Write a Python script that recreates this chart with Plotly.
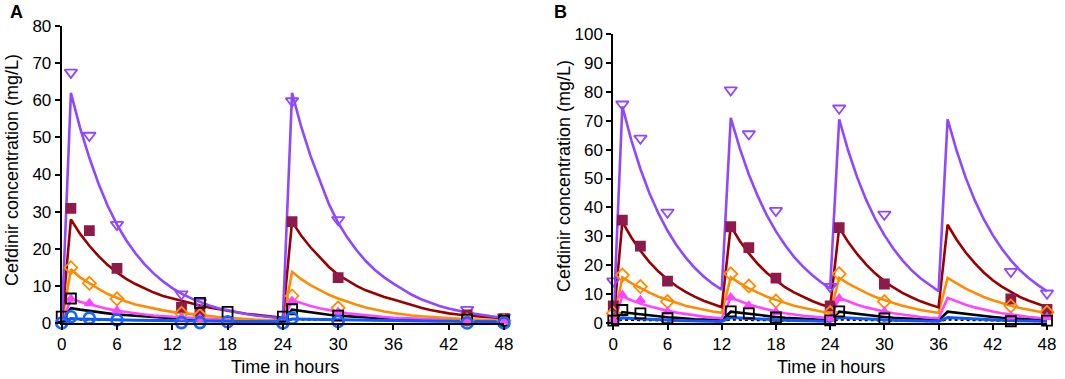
import plotly.graph_objects as go

# ---------------- data ----------------
hours = list(range(49))
x_ticks = [0, 6, 12, 18, 24, 30, 36, 42, 48]

# Panel A (once daily) model curves, hourly
purple_A = [0, 62.0, 52.5, 44.5, 37.5, 31.5, 26.5, 22.3, 18.8, 15.8, 13.3, 11.2, 9.4, 7.9, 6.7, 5.6, 4.7, 4.0, 3.4, 2.8, 2.4, 2.0, 1.7, 1.4, 1.2,
            62.0, 52.8, 45.0, 38.3, 32.0, 27.0, 23.0, 19.6, 16.7, 14.3, 12.3, 10.6, 9.0, 7.6, 6.4, 5.4, 4.6, 3.9, 3.3, 2.8, 2.4, 2.0, 1.7, 1.4]
darkred_A = [0, 27.9, 24.0, 20.8, 18.0, 15.6, 13.6, 11.9, 10.5, 9.3, 8.2, 7.3, 6.6, 5.9, 5.2, 4.7, 4.2, 3.7, 3.3, 2.9, 2.5, 2.2, 1.9, 1.6, 1.4,
             27.3, 23.5, 20.4, 17.6, 15.1, 13.0, 11.4, 10.0, 8.8, 7.8, 7.0, 6.3, 5.5, 4.8, 4.1, 3.5, 3.0, 2.6, 2.3, 2.0, 1.8, 1.6, 1.4, 1.3]
orange_A = [0, 14.5, 12.3, 10.7, 9.2, 7.8, 6.7, 5.8, 5.0, 4.4, 3.9, 3.4, 3.0, 2.7, 2.4, 2.1, 1.8, 1.6, 1.4, 1.2, 1.0, 0.9, 0.8, 0.7, 0.6,
            13.8, 11.8, 10.2, 8.8, 7.6, 6.6, 5.7, 4.9, 4.2, 3.6, 3.1, 2.7, 2.3, 2.0, 1.8, 1.6, 1.4, 1.2, 1.1, 1.0, 0.9, 0.8, 0.7, 0.6]
magenta_A = [0, 6.5, 5.7, 5.0, 4.3, 3.8, 3.3, 2.9, 2.6, 2.3, 2.0, 1.8, 1.6, 1.5, 1.3, 1.2, 1.1, 1.0, 0.9, 0.8, 0.7, 0.65, 0.6, 0.55, 0.5,
             6.2, 5.3, 4.6, 4.0, 3.4, 3.0, 2.6, 2.3, 2.0, 1.8, 1.6, 1.4, 1.3, 1.2, 1.1, 1.0, 0.9, 0.8, 0.75, 0.7, 0.65, 0.6, 0.55, 0.5]
black_A = [0.8, 4.0, 3.6, 3.2, 2.9, 2.6, 2.3, 2.1, 1.9, 1.7, 1.6, 1.5, 1.3, 1.2, 1.1, 1.0, 0.95, 0.9, 0.85, 0.8, 0.75, 0.7, 0.7, 0.65, 0.6,
           3.6, 3.2, 2.9, 2.5, 2.2, 2.0, 1.8, 1.6, 1.5, 1.3, 1.2, 1.1, 1.0, 0.95, 0.9, 0.85, 0.8, 0.75, 0.7, 0.7, 0.65, 0.6, 0.6, 0.55]
blue_A = [0.2, 1.2, 1.1, 1.0, 0.95, 0.9, 0.85, 0.8, 0.75, 0.7, 0.68, 0.65, 0.6, 0.58, 0.55, 0.52, 0.5, 0.48, 0.45, 0.43, 0.41, 0.4, 0.38, 0.36, 0.35,
          1.1, 1.05, 1.0, 0.95, 0.85, 0.8, 0.75, 0.7, 0.67, 0.63, 0.6, 0.57, 0.55, 0.52, 0.5, 0.48, 0.46, 0.44, 0.42, 0.4, 0.38, 0.37, 0.36, 0.35]
dotted_A = [0.3, 0.9, 0.88, 0.85, 0.82, 0.8, 0.78, 0.76, 0.74, 0.72, 0.7, 0.68, 0.66, 0.64, 0.62, 0.6, 0.58, 0.57, 0.56, 0.55, 0.54, 0.53, 0.52, 0.51, 0.5,
            0.9, 0.88, 0.85, 0.82, 0.8, 0.78, 0.76, 0.74, 0.72, 0.7, 0.68, 0.66, 0.64, 0.62, 0.6, 0.58, 0.57, 0.56, 0.55, 0.54, 0.53, 0.52, 0.51, 0.5]

# Panel A observations
tri_A_t = [1, 3, 6, 13, 15, 25, 30, 44, 48]
tri_A_v = [67.5, 50.5, 26.5, 7.8, 5.6, 59.8, 27.8, 3.6, 1.6]
sq_A_t = [1, 3, 6, 13, 15, 25, 30, 44, 48]
sq_A_v = [30.9, 24.9, 14.7, 4.2, 3.0, 27.3, 12.2, 2.2, 1.2]
dia_A_t = [1, 3, 6, 13, 15, 25, 30, 44, 48]
dia_A_v = [14.9, 10.7, 6.5, 2.6, 2.0, 7.3, 4.1, 0.8, 0.6]
mtri_A_t = [1, 3, 6, 13, 15, 25, 30, 44, 48]
mtri_A_v = [6.5, 5.3, 3.3, 1.5, 1.2, 5.9, 3.0, 0.7, 0.5]
osq_A_t = [0, 1, 15, 18, 24, 25, 30, 44, 48]
osq_A_v = [1.7, 6.6, 5.4, 3.0, 1.7, 3.7, 2.0, 0.9, 0.6]
circ_A_t = [0, 1, 3, 6, 13, 15, 18, 24, 25, 30, 44, 48]
circ_A_v = [0, 1.7, 1.3, 0.8, 0.1, 0.1, 0.35, 0, 1.3, 0.4, 0, 0]

# Panel B (every 12 h) model curves, hourly
purple_B = [0, 75.0, 63.2, 53.3, 44.9, 37.9, 31.9, 26.9, 22.7, 19.1, 16.1, 13.6, 11.5,
            71.0, 60.4, 51.4, 43.8, 37.2, 31.7, 27.0, 22.9, 19.5, 16.6, 14.1, 12.0,
            70.5, 59.6, 50.3, 42.5, 35.9, 30.4, 25.7, 21.7, 18.3, 15.5, 13.1, 11.0,
            70.5, 59.6, 50.3, 42.5, 35.9, 30.4, 25.7, 21.7, 18.3, 15.5, 13.1, 11.0]
darkred_B = [0, 35.0, 29.6, 25.0, 21.1, 17.8, 15.1, 12.7, 10.8, 9.1, 7.7, 6.5, 5.5,
             33.5, 28.4, 24.1, 20.4, 17.3, 14.7, 12.4, 10.6, 9.0, 7.6, 6.4, 5.5,
             33.0, 28.0, 23.8, 20.2, 17.1, 14.5, 12.3, 10.4, 8.9, 7.5, 6.4, 5.4,
             34.0, 28.8, 24.4, 20.7, 17.5, 14.8, 12.6, 10.7, 9.0, 7.7, 6.5, 5.5]
orange_B = [0, 15.8, 13.8, 12.0, 10.5, 9.1, 8.0, 6.9, 6.0, 5.3, 4.6, 4.0, 3.5,
            15.8, 13.8, 12.0, 10.5, 9.1, 8.0, 6.9, 6.0, 5.3, 4.6, 4.0, 3.5,
            15.6, 13.6, 11.9, 10.4, 9.0, 7.9, 6.9, 6.0, 5.2, 4.5, 4.0, 3.5,
            15.6, 13.6, 11.9, 10.4, 9.0, 7.9, 6.9, 6.0, 5.2, 4.5, 4.0, 3.5]
magenta_B = [0, 9.2, 7.9, 6.7, 5.8, 4.9, 4.2, 3.6, 3.1, 2.6, 2.2, 1.9, 1.6,
             8.8, 7.5, 6.4, 5.5, 4.7, 4.0, 3.4, 2.9, 2.5, 2.2, 1.9, 1.6,
             8.7, 7.4, 6.3, 5.4, 4.6, 4.0, 3.4, 2.9, 2.5, 2.1, 1.8, 1.6,
             8.7, 7.4, 6.3, 5.4, 4.6, 4.0, 3.4, 2.9, 2.5, 2.1, 1.8, 1.6]
black_B = [0, 3.8, 3.4, 3.0, 2.6, 2.3, 2.0, 1.8, 1.5, 1.3, 1.2, 1.0, 0.9,
           3.9, 3.5, 3.1, 2.7, 2.4, 2.1, 1.8, 1.6, 1.4, 1.2, 1.0, 0.9,
           3.9, 3.5, 3.1, 2.7, 2.4, 2.1, 1.8, 1.6, 1.4, 1.2, 1.0, 0.9,
           3.9, 3.5, 3.1, 2.7, 2.4, 2.1, 1.8, 1.6, 1.4, 1.2, 1.0, 0.9]
blue_B = [0.2, 1.8, 1.6, 1.4, 1.25, 1.1, 1.0, 0.9, 0.8, 0.7, 0.65, 0.6, 0.55,
          1.9, 1.7, 1.5, 1.3, 1.15, 1.05, 0.95, 0.85, 0.75, 0.7, 0.65, 0.6,
          1.9, 1.7, 1.5, 1.3, 1.15, 1.05, 0.95, 0.85, 0.75, 0.7, 0.65, 0.6,
          1.9, 1.7, 1.5, 1.3, 1.15, 1.05, 0.95, 0.85, 0.75, 0.7, 0.65, 0.6]
dotted_B = [0.3, 1.1, 1.0, 0.95, 0.9, 0.85, 0.8, 0.75, 0.7, 0.67, 0.64, 0.6, 0.57,
            1.1, 1.0, 0.95, 0.9, 0.85, 0.8, 0.75, 0.7, 0.67, 0.64, 0.6, 0.57,
            1.1, 1.0, 0.95, 0.9, 0.85, 0.8, 0.75, 0.7, 0.67, 0.64, 0.6, 0.57,
            1.1, 1.0, 0.95, 0.9, 0.85, 0.8, 0.75, 0.7, 0.67, 0.64, 0.6, 0.57]

# Panel B observations
obs_B_t = [0, 1, 3, 6, 13, 15, 18, 24, 25, 30, 44, 48]
tri_B_v = [14.5, 75.7, 63.9, 38.3, 80.6, 65.4, 38.9, 12.6, 74.3, 37.6, 17.8, 10.3]
sq_B_v = [5.9, 35.6, 26.6, 14.5, 33.3, 26.1, 15.5, 5.9, 33.0, 13.5, 8.3, 4.7]
dia_B_v = [3.4, 16.6, 12.6, 7.4, 17.0, 12.8, 7.6, 3.6, 17.0, 7.4, 5.9, 3.7]
mtri_B_v = [1.0, 9.7, 7.9, 3.9, 8.8, 6.0, 3.8, 1.5, 8.5, 3.9, 2.2, 2.0]
osq_B_v = [0.8, 4.5, 3.3, 1.7, 4.0, 3.3, 1.9, 0.9, 4.0, 1.6, 0.6, 0.8]

for arr in [purple_A, darkred_A, orange_A, magenta_A, black_A, blue_A, dotted_A,
            purple_B, darkred_B, orange_B, magenta_B, black_B, blue_B, dotted_B]:
    assert len(arr) == len(hours), len(arr)

# ---------------- styles ----------------
PURPLE = "#8F47FF"
DARKRED = "#990000"
MAROON = "#8E1A4C"
ORANGE = "#FF8C00"
MAGENTA = "#FF45FF"
BLACK = "#000000"
BLUE = "#0A58FF"
FONT = "Liberation Sans, Arial, sans-serif"

W, H = 1065, 379

fig = go.Figure()


def add_line(y, color, xa, ya, dash="solid", width=2.6):
    fig.add_trace(go.Scatter(x=hours, y=y, mode="lines", xaxis=xa, yaxis=ya,
                             line=dict(color=color, width=width, dash=dash),
                             cliponaxis=False, showlegend=False, hoverinfo="skip"))


def add_markers(t, v, symbol, color, size, xa, ya, lw=1.8):
    fig.add_trace(go.Scatter(x=t, y=v, mode="markers", xaxis=xa, yaxis=ya,
                             marker=dict(symbol=symbol, size=size, color=color,
                                         line=dict(color=color, width=lw)),
                             cliponaxis=False, showlegend=False))


# Panel A
add_line(dotted_A, BLACK, "x", "y", dash="dot", width=1.8)
add_line(black_A, BLACK, "x", "y")
add_line(magenta_A, MAGENTA, "x", "y")
add_line(orange_A, ORANGE, "x", "y")
add_line(darkred_A, DARKRED, "x", "y")
add_line(purple_A, PURPLE, "x", "y")
add_line(blue_A, BLUE, "x", "y", width=3)
add_markers(tri_A_t, tri_A_v, "triangle-down-open", PURPLE, 11, "x", "y")
add_markers(sq_A_t, sq_A_v, "square", MAROON, 9, "x", "y")
add_markers(dia_A_t, dia_A_v, "diamond-open", ORANGE, 10, "x", "y")
add_markers(mtri_A_t, mtri_A_v, "triangle-up", MAGENTA, 8, "x", "y")
add_markers(osq_A_t, osq_A_v, "square-open", BLACK, 10, "x", "y")
add_markers(circ_A_t, circ_A_v, "circle-open", "#1466FF", 11, "x", "y", lw=2.6)

# Panel B
add_line(dotted_B, BLACK, "x2", "y2", dash="dot", width=1.8)
add_line(black_B, BLACK, "x2", "y2")
add_line(magenta_B, MAGENTA, "x2", "y2")
add_line(orange_B, ORANGE, "x2", "y2")
add_line(darkred_B, DARKRED, "x2", "y2")
add_line(purple_B, PURPLE, "x2", "y2")
add_line(blue_B, BLUE, "x2", "y2", width=3)
add_markers(obs_B_t, tri_B_v, "triangle-down-open", PURPLE, 11, "x2", "y2")
add_markers(obs_B_t, sq_B_v, "square", MAROON, 9, "x2", "y2")
add_markers(obs_B_t, dia_B_v, "diamond-open", ORANGE, 10, "x2", "y2")
add_markers(obs_B_t, mtri_B_v, "triangle-up", MAGENTA, 8, "x2", "y2")
add_markers(obs_B_t, osq_B_v, "square-open", BLACK, 10, "x2", "y2")

axis_common = dict(showline=True, linecolor="black", linewidth=2, ticks="outside",
                   ticklen=5, tickwidth=2, tickcolor="black", showgrid=False,
                   zeroline=False, tickfont=dict(family=FONT, size=17, color="black"),
                   automargin=False, fixedrange=True)

fig.update_layout(
    width=W, height=H, margin=dict(l=0, r=0, t=0, b=0),
    paper_bgcolor="white", plot_bgcolor="white",
    xaxis=dict(domain=[61.7 / W, 504 / W], range=[0, 48], tickvals=x_ticks,
               anchor="y", **axis_common),
    yaxis=dict(domain=[56 / H, 353 / H], range=[0, 80], tickvals=list(range(0, 81, 10)),
               anchor="x", **axis_common),
    xaxis2=dict(domain=[613.3 / W, 1047 / W], range=[0, 48], tickvals=x_ticks,
                anchor="y2", **axis_common),
    yaxis2=dict(domain=[56 / H, 345 / H], range=[0, 100], tickvals=list(range(0, 101, 10)),
                anchor="x2", **axis_common),
)

ann_font = dict(family=FONT, size=18, color="black")
annotations = [
    dict(text="Cefdinir concentration (mg/L)", x=12 / W, y=1 - 170 / H, textangle=-90),
    dict(text="Cefdinir concentration (mg/L)", x=564 / W, y=1 - 176 / H, textangle=-90),
    dict(text="Time in hours", x=285 / W, y=1 - 367 / H),
    dict(text="Time in hours", x=831 / W, y=1 - 367 / H),
]
for a in annotations:
    fig.add_annotation(xref="paper", yref="paper", showarrow=False,
                       xanchor="center", yanchor="middle", font=ann_font, **a)
for lab, px in [("A", 16), ("B", 560)]:
    fig.add_annotation(text="<b>%s</b>" % lab, xref="paper", yref="paper",
                       x=px / W, y=1 - 12 / H, showarrow=False,
                       xanchor="center", yanchor="middle",
                       font=dict(family=FONT, size=18, color="black"))

fig.write_html("out.html", config={"displayModeBar": False},
               post_script="document.body.style.margin='0';document.body.style.overflow='hidden';")
